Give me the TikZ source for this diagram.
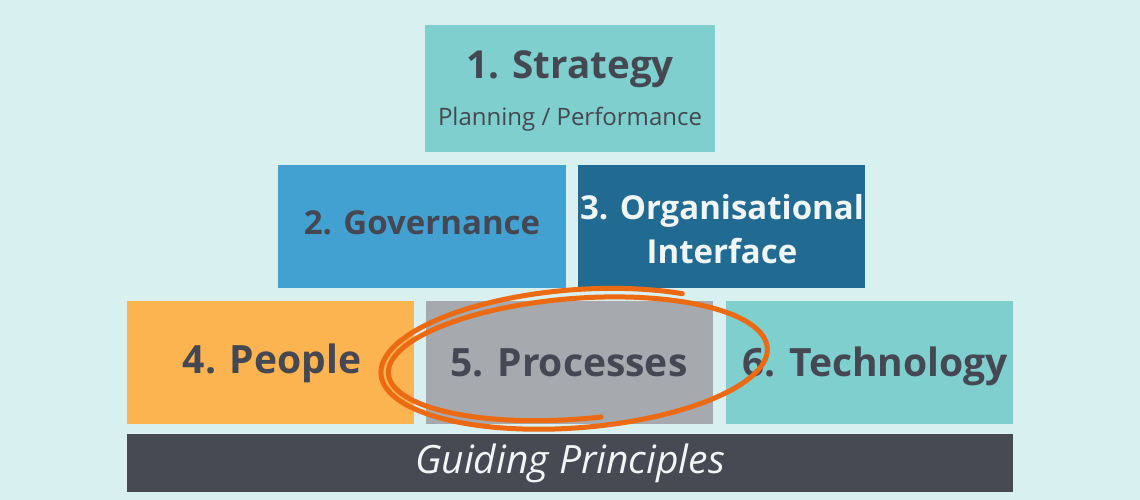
\documentclass[tikz,border=0pt]{standalone}
\usepackage{fontspec}
\setmainfont{Open Sans}
\definecolor{bg}{HTML}{D8F0F0}
\definecolor{teal}{HTML}{7ECFCD}
\definecolor{govblue}{HTML}{42A1D0}
\definecolor{orgblue}{HTML}{216A92}
\definecolor{peopleor}{HTML}{FBB450}
\definecolor{procgray}{HTML}{A6A9AE}
\definecolor{guidedark}{HTML}{474A53}
\definecolor{txtdark}{HTML}{454853}
\definecolor{txtlight}{HTML}{F0F5F5}
\definecolor{circle}{HTML}{EB6A12}
\begin{document}
\begin{tikzpicture}[x=1pt,y=-1pt,
  block/.style={draw=none,inner sep=0pt,outer sep=0pt,anchor=north west},
  bigtxt/.style={font=\fontsize{33}{38}\selectfont\bfseries,text=txtdark,inner sep=0pt},
  rowtxt/.style={font=\fontsize{39}{44}\selectfont\bfseries,text=txtdark,inner sep=0pt},
  subtxt/.style={font=\fontsize{24}{28}\selectfont,text=txtdark,inner sep=0pt}]
\fill[bg] (0,0) rectangle (1140,500);
\useasboundingbox (0,0) rectangle (1140,500);
% blocks
\node[block,fill=teal,minimum width=290pt,minimum height=127pt] (strat) at (425,25) {};
\node[block,fill=govblue,minimum width=288pt,minimum height=123pt] (gov) at (278,165) {};
\node[block,fill=orgblue,minimum width=287pt,minimum height=123pt] (org) at (578,165) {};
\node[block,fill=peopleor,minimum width=287pt,minimum height=123pt] (people) at (127,301) {};
\node[block,fill=procgray,minimum width=287pt,minimum height=123pt] (proc) at (426,301) {};
\node[block,fill=teal,minimum width=287pt,minimum height=123pt] (tech) at (726,301) {};
\node[block,fill=guidedark,minimum width=886pt,minimum height=58pt] (guide) at (127,434) {};
% labels
\node[bigtxt,font=\fontsize{38.5}{42}\selectfont\bfseries] (stratT) at (570,69) {1. Strategy};
\node[subtxt] (stratS) at (570,119) {Planning / Performance};
\node[bigtxt] (govT) at (422,223) {2. Governance};
\node[bigtxt,text=txtlight,align=center,font=\fontsize{33}{44}\selectfont\bfseries] (orgT) at (722,229) {3. Organisational\\Interface};
\node[rowtxt] (peopleT) at (272,363) {4. People};
\node[rowtxt] (procT) at (569,363) {5. Processes};
\node[rowtxt] (techT) at (875,366) {6. Technology};
\node[inner sep=0pt,text=txtlight,font=\fontsize{39}{44}\selectfont\itshape] (guideT) at (570,463) {Guiding Principles};
% hand-drawn circle
\draw[circle,line width=5pt,line cap=round,line join=round,rotate around={4:(575,361)}]
  plot[domain=0:1,samples=220,smooth,variable=\s]
  ({576+(198-12*\s)*cos(-56-581*\s)},{361+(72-14*\s)*sin(-56-581*\s)});
\end{tikzpicture}
\end{document}
